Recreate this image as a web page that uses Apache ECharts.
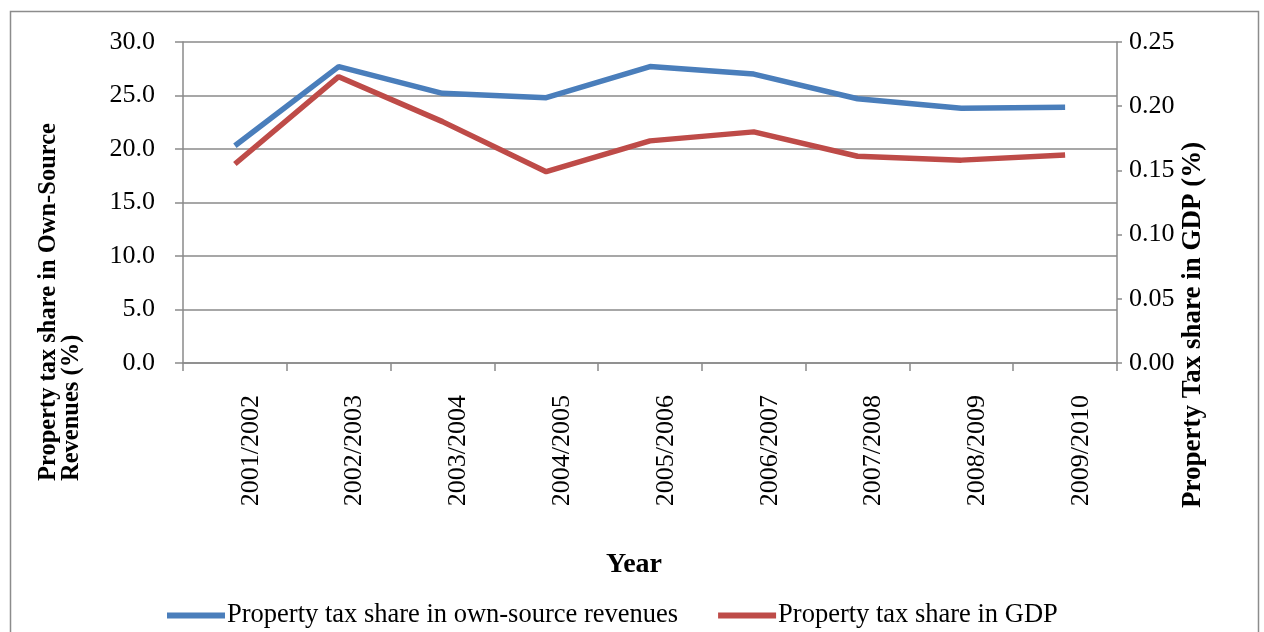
<!DOCTYPE html>
<html>
<head>
<meta charset="utf-8">
<script src="https://cdn.jsdelivr.net/npm/echarts@6/dist/echarts.min.js"></script>
<style>
  html, body { margin: 0; padding: 0; background: #fff; }
  #chart { width: 1264px; height: 632px; }
</style>
</head>
<body>
<div id="chart"></div>
<script>
// Fiscal years on the category axis
const years = ['2001/2002', '2002/2003', '2003/2004', '2004/2005', '2005/2006',
               '2006/2007', '2007/2008', '2008/2009', '2009/2010'];
// Property tax share in own-source revenues (%), left axis
const ownSourceShare = [20.3, 27.7, 25.2, 24.8, 27.7, 27.0, 24.7, 23.8, 23.9];
// Property tax share in GDP (%), right axis
const gdpShare = [0.155, 0.223, 0.188, 0.149, 0.173, 0.180, 0.161, 0.158, 0.162];

const seriesNames = ['Property tax share in own-source revenues', 'Property tax share in GDP'];
const leftTitle = ['Property tax share in Own-Source', 'Revenues (%)'];
const rightTitle = 'Property Tax share in GDP (%)';
const xTitle = 'Year';

const FONT = '"Liberation Serif", "Times New Roman", serif';
const GRID_COLOR = '#8a8a8a';
const BLUE = '#4a7ebb';
const RED = '#be4b48';

const chart = echarts.init(document.getElementById('chart'), null, { renderer: 'canvas' });

chart.setOption({
  backgroundColor: '#ffffff',
  animation: false,
  textStyle: { fontFamily: FONT, color: '#000' },
  grid: { left: 183, right: 147, top: 42, bottom: 269, containLabel: false },
  legend: {
    data: seriesNames,
    left: 162,
    top: 597,
    icon: 'rect',
    itemWidth: 58,
    itemHeight: 6,
    itemGap: 40,
    textStyle: { fontFamily: FONT, fontSize: 26.5, color: '#000', padding: [0, 0, 0, -3] }
  },
  xAxis: {
    type: 'category',
    data: years,
    boundaryGap: true,
    axisLine: { show: true, lineStyle: { color: GRID_COLOR, width: 1.5 } },
    axisTick: { show: true, length: 8, alignWithLabel: false, lineStyle: { color: GRID_COLOR, width: 1.5 } },
    axisLabel: {
      rotate: 90,
      margin: 32,
      fontFamily: FONT,
      fontSize: 26,
      color: '#000',
      verticalAlign: 'top',
      padding: [3, 0, 0, 0]
    },
    splitLine: { show: false }
  },
  yAxis: [
    {
      type: 'value',
      min: 0,
      max: 30,
      interval: 5,
      position: 'left',
      axisLine: { show: true, lineStyle: { color: GRID_COLOR, width: 1.5 } },
      axisTick: { show: true, length: 8, lineStyle: { color: GRID_COLOR, width: 1.5 } },
      axisLabel: {
        margin: 28,
        fontFamily: FONT,
        fontSize: 26,
        color: '#000',
        formatter: v => v.toFixed(1)
      },
      splitLine: { show: true, lineStyle: { color: GRID_COLOR, width: 1.5 } }
    },
    {
      type: 'value',
      min: 0,
      max: 0.25,
      interval: 0.05,
      position: 'right',
      axisLine: { show: true, lineStyle: { color: GRID_COLOR, width: 1.5 } },
      axisTick: { show: true, length: 5, lineStyle: { color: GRID_COLOR, width: 1.5 } },
      axisLabel: {
        margin: 12,
        fontFamily: FONT,
        fontSize: 26,
        color: '#000',
        formatter: v => v.toFixed(2)
      },
      splitLine: { show: false }
    }
  ],
  series: [
    {
      name: seriesNames[0],
      type: 'line',
      yAxisIndex: 0,
      data: ownSourceShare,
      symbol: 'none',
      smooth: false,
      lineStyle: { color: BLUE, width: 5.5 },
      itemStyle: { color: BLUE }
    },
    {
      name: seriesNames[1],
      type: 'line',
      yAxisIndex: 1,
      data: gdpShare,
      symbol: 'none',
      smooth: false,
      lineStyle: { color: RED, width: 5.5 },
      itemStyle: { color: RED }
    }
  ],
  graphic: [
    {
      type: 'rect',
      silent: true,
      shape: { x: 10.5, y: 11.5, width: 1248, height: 640 },
      style: { fill: 'none', stroke: '#8c8c8c', lineWidth: 1.5 }
    },
    {
      type: 'text',
      x: 49, y: 481,
      rotation: Math.PI / 2,
      style: {
        text: leftTitle[0],
        font: 'bold 24.5px ' + FONT,
        fill: '#000',
        textAlign: 'left',
        textVerticalAlign: 'middle'
      }
    },
    {
      type: 'text',
      x: 72, y: 481,
      rotation: Math.PI / 2,
      style: {
        text: leftTitle[1],
        font: 'bold 24.5px ' + FONT,
        fill: '#000',
        textAlign: 'left',
        textVerticalAlign: 'middle'
      }
    },
    {
      type: 'text',
      x: 1193, y: 508,
      rotation: Math.PI / 2,
      style: {
        text: rightTitle,
        font: 'bold 27px ' + FONT,
        fill: '#000',
        textAlign: 'left',
        textVerticalAlign: 'middle'
      }
    },
    {
      type: 'text',
      x: 634, y: 565,
      style: {
        text: xTitle,
        font: 'bold 28px ' + FONT,
        fill: '#000',
        textAlign: 'center',
        textVerticalAlign: 'middle'
      }
    }
  ]
});
</script>
</body>
</html>
